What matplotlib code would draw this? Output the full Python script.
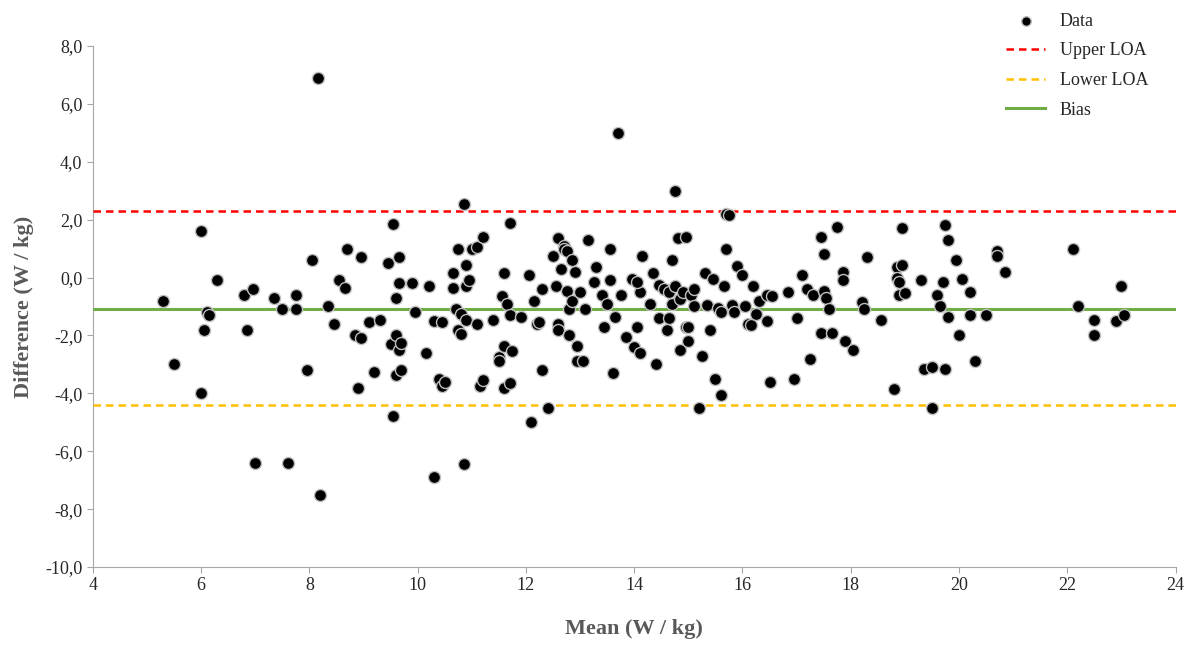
import matplotlib
matplotlib.use('Agg')
import matplotlib.pyplot as plt
from matplotlib.ticker import FuncFormatter
import numpy as np

plt.rcParams['font.family'] = ['Liberation Serif', 'DejaVu Serif']

# (mean, difference)
points = [
    (5.3, -0.8), (5.5, -3.0), (6.0, 1.6), (6.05, -1.8), (6.0, -4.0), (6.1, -1.2), (6.15, -1.3),
    (6.3, -0.1), (6.8, -0.6), (6.85, -1.8), (6.95, -0.4), (7.0, -6.4), (7.35, -0.7), (7.5, -1.1),
    (7.6, -6.4), (7.75, -0.6), (7.75, -1.1), (7.95, -3.2), (8.05, 0.6), (8.15, 6.9), (8.2, -7.5),
    (8.35, -1.0), (8.45, -1.6), (8.55, -0.1), (8.7, 1.0), (8.65, -0.35), (8.85, -2.0), (8.9, -3.8),
    (8.95, -2.1), (8.95, 0.7), (9.1, -1.55), (9.2, -3.25), (9.3, -1.45), (9.45, 0.5), (9.5, -2.3),
    (9.55, -4.8), (9.55, 1.85), (9.6, -0.7), (9.6, -2.0), (9.65, -2.5), (9.6, -3.35), (9.65, -0.2),
    (9.65, 0.7), (9.7, -3.2), (9.7, -2.25), (9.9, -0.2), (9.95, -1.2), (10.15, -2.6), (10.2, -0.3),
    (10.3, -6.9), (10.3, -1.5), (10.4, -3.5), (10.45, -1.55), (10.45, -3.75), (10.5, -3.6),
    (10.65, 0.15), (10.65, -0.35), (10.7, -1.1), (10.75, -1.8), (10.75, 1.0), (10.8, -1.25),
    (10.8, -1.95), (10.85, -6.45), (10.85, 2.55), (10.9, -0.3), (10.9, -1.45), (10.9, 0.45),
    (10.95, -0.1), (11.0, 1.0), (11.1, -1.6), (11.1, 1.05), (11.15, -3.75), (11.2, 1.4),
    (11.2, -3.55), (11.4, -1.45), (11.5, -2.75), (11.5, -2.9), (11.55, -0.65), (11.6, -3.8),
    (11.6, -2.35), (11.6, 0.15), (11.65, -0.9), (11.7, 1.9), (11.7, -1.3), (11.7, -3.65),
    (11.75, -2.55), (11.9, -1.35), (12.05, 0.1), (12.1, -5.0), (12.15, -0.8), (12.2, -1.6),
    (12.25, -1.55), (12.3, -0.4), (12.3, -3.2), (12.4, -4.5), (12.5, 0.75), (12.55, -0.3),
    (12.6, 1.35), (12.6, -1.6), (12.6, -1.8), (12.65, 0.3), (12.7, 1.1), (12.7, 1.0), (12.75, 0.9),
    (12.75, -0.45), (12.8, -2.0), (12.85, 0.6), (12.8, -1.1), (12.85, -0.8), (12.9, 0.2),
    (12.95, -2.9), (12.95, -2.35), (13.0, -0.5), (13.05, -2.9), (13.1, -1.1), (13.15, 1.3),
    (13.25, -0.15), (13.3, 0.35), (13.4, -0.6), (13.45, -1.7), (13.5, -0.9), (13.55, 1.0),
    (13.55, -0.1), (13.6, -3.3), (13.65, -1.35), (13.7, 5.0), (13.75, -0.6), (13.85, -2.05),
    (13.95, -0.05), (14.0, -2.4), (14.05, -1.7), (14.1, -0.5), (14.05, -0.15), (14.1, -2.6),
    (14.15, 0.75), (14.3, -0.9), (14.35, 0.15), (14.4, -3.0), (14.45, -1.4), (14.45, -0.25),
    (14.55, -0.4), (14.6, -1.8), (14.65, -1.4), (14.65, -0.5), (14.7, 0.6), (14.7, -0.9),
    (14.75, 3.0), (14.75, -0.3), (14.8, 1.35), (14.85, -0.75), (14.85, -2.5), (14.9, -0.5),
    (14.95, -1.7), (14.95, 1.4), (15.0, -2.2), (15.0, -1.7), (15.05, -0.6), (15.1, -0.4),
    (15.1, -1.0), (15.2, -4.5), (15.25, -2.7), (15.3, 0.15), (15.35, -0.95), (15.4, -1.8),
    (15.45, -0.05), (15.5, -3.5), (15.55, -1.05), (15.6, -4.05), (15.6, -1.2), (15.65, -0.3),
    (15.7, 2.2), (15.75, 2.15), (15.7, 1.0), (15.8, -0.95), (15.85, -1.2), (15.9, 0.4),
    (16.0, 0.1), (16.05, -1.0), (16.1, -1.6), (16.15, -1.65), (16.2, -0.3), (16.25, -1.25),
    (16.3, -0.8), (16.45, -0.6), (16.45, -1.5), (16.5, -3.6), (16.55, -0.65), (16.85, -0.5),
    (16.95, -3.5), (17.0, -1.4), (17.1, 0.1), (17.2, -0.4), (17.25, -2.8), (17.3, -0.6),
    (17.45, -1.9), (17.45, 1.4), (17.5, -0.45), (17.5, 0.8), (17.55, -0.7), (17.6, -1.1),
    (17.65, -1.9), (17.75, 1.75), (17.85, 0.2), (17.85, -0.1), (17.9, -2.2), (18.05, -2.5),
    (18.2, -0.85), (18.25, -1.1), (18.3, 0.7), (18.55, -1.45), (18.8, -3.85), (18.85, 0.35),
    (18.85, 0.0), (18.9, -0.15), (18.9, -0.6), (18.95, 0.45), (18.95, 1.7), (19.0, -0.55),
    (19.3, -0.1), (19.35, -3.15), (19.5, -3.1), (19.5, -4.5), (19.6, -0.6), (19.65, -1.0),
    (19.7, -0.15), (19.75, 1.8), (19.75, -3.15), (19.8, -1.35), (19.8, 1.3), (19.95, 0.6),
    (20.0, -2.0), (20.05, -0.05), (20.2, -0.5), (20.2, -1.3), (20.3, -2.9), (20.5, -1.3),
    (20.7, 0.9), (20.7, 0.75), (20.85, 0.2), (22.1, 1.0), (22.2, -1.0), (22.5, -1.45),
    (22.5, -2.0), (22.9, -1.5), (23.0, -0.3), (23.05, -1.3),
]
means = [p[0] for p in points]
diffs = [p[1] for p in points]

upper_loa = 2.3
lower_loa = -4.42
bias = -1.07

GREY = '#595959'

fig = plt.figure(figsize=(11.91, 6.57), dpi=100)
ax = fig.add_axes([0.078, 0.137, 0.909, 0.793])

ax.scatter(means, diffs, s=75, c='black', edgecolors='#bfbfbf', linewidths=1.0, zorder=4, label='Data')
ax.axhline(upper_loa, color='#ff0000', linestyle=(0, (3, 2)), linewidth=1.8, label='Upper LOA', zorder=3)
ax.axhline(lower_loa, color='#ffc000', linestyle=(0, (3, 2)), linewidth=1.8, label='Lower LOA', zorder=3)
ax.axhline(bias, color='#70ad47', linewidth=2.2, label='Bias', zorder=3)

ax.set_xlim(4, 24)
ax.set_ylim(-10, 8)
ax.set_xticks(np.arange(4, 25, 2))
ax.set_yticks(np.arange(-10, 9, 2))
ax.yaxis.set_major_formatter(FuncFormatter(lambda v, p: f'{v:.1f}'.replace('.', ',')))
ax.tick_params(labelsize=13, colors='#262626', length=4, color='#a6a6a6')
for s in ['top', 'right']:
    ax.spines[s].set_visible(False)
for s in ['left', 'bottom']:
    ax.spines[s].set_color('#a6a6a6')

ax.set_xlabel('Mean (W / kg)', fontsize=16, fontweight='bold', color=GREY, labelpad=18)
ax.set_ylabel('Difference (W / kg)', fontsize=16, fontweight='bold', color=GREY, labelpad=8)

leg = ax.legend(loc='upper right', bbox_to_anchor=(0.99, 1.095), frameon=False, fontsize=13,
                handlelength=2.2, labelspacing=0.7, markerscale=0.8)
for t in leg.get_texts():
    t.set_color('#262626')

fig.savefig('out.png', dpi=100)
